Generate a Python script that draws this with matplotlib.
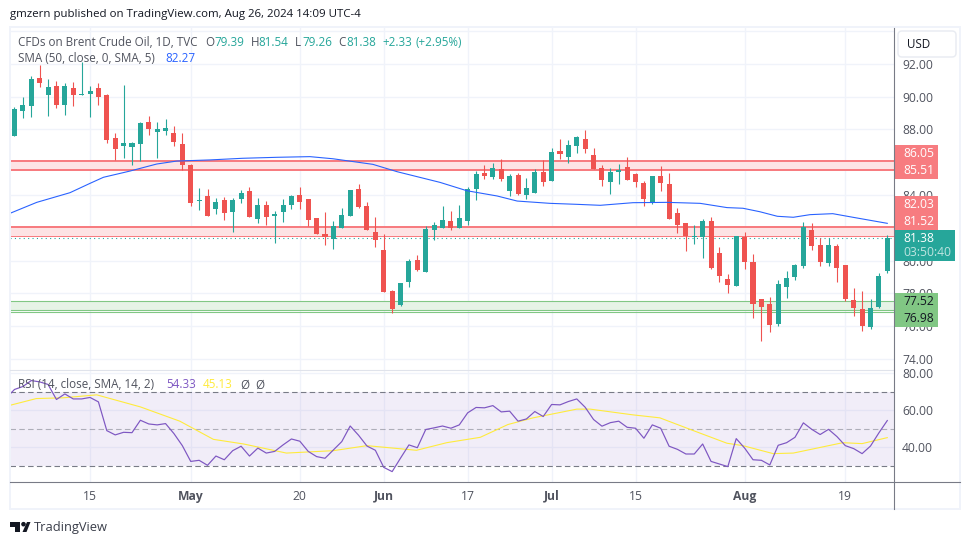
#!/usr/bin/env python3
"""Brent crude daily candles with SMA, RSI and support/resistance zones."""

import matplotlib
matplotlib.use('Agg')
import matplotlib.pyplot as plt
from matplotlib.patches import Rectangle, FancyBboxPatch, Polygon, Circle
import numpy as np

plt.rcParams['font.family'] = ['Open Sans', 'DejaVu Sans']

W, H = 970, 545

# Candle data
opens = [87.60, 89.14, 89.43, 91.14, 90.10, 90.65, 89.49, 90.53, 90.10, 90.16,
         90.53, 90.10, 87.48, 86.99, 86.93, 87.11, 88.45, 87.84, 87.90, 87.78,
         87.11, 85.83, 83.63, 83.94, 83.15, 83.69, 82.96, 83.76, 84.24, 82.54,
         83.39, 82.72, 82.96, 83.39, 84.00, 83.76, 82.60, 81.62, 81.32, 81.99,
         82.72, 84.37, 83.33, 81.74, 80.64, 78.14, 77.29, 78.69, 80.03, 79.30,
         81.86, 81.99, 82.41, 81.99, 82.41, 84.37, 85.34, 85.10, 85.59, 84.24,
         85.22, 84.00, 84.12, 85.40, 84.85, 86.68, 86.32, 86.99, 87.42, 86.44,
         85.65, 84.79, 85.40, 85.71, 85.28, 84.73, 83.51, 85.16, 84.67, 82.90,
         82.29, 81.44, 81.44, 82.41, 80.46, 78.87, 78.45, 81.44, 79.91, 77.65,
         77.35, 76.13, 78.39, 79.00, 79.67, 81.86, 80.95, 79.85, 80.89, 79.73,
         77.59, 77.04, 75.95, 77.17, 79.39]
highs = [89.35, 89.96, 91.28, 91.93, 91.08, 90.96, 90.83, 90.89, 92.11, 90.65,
         90.83, 90.16, 87.78, 90.71, 87.23, 88.45, 88.82, 88.45, 88.64, 88.21,
         87.78, 85.89, 84.43, 84.37, 83.82, 83.88, 83.82, 84.31, 84.49, 83.82,
         83.63, 83.02, 83.76, 84.00, 84.49, 83.76, 82.60, 82.96, 82.41, 83.21,
         84.31, 84.67, 83.57, 82.66, 81.62, 78.20, 78.63, 80.10, 80.34, 82.11,
         82.35, 83.33, 83.02, 83.39, 84.49, 85.46, 85.83, 85.95, 86.20, 85.28,
         85.34, 85.04, 85.59, 86.14, 86.87, 87.42, 87.36, 87.60, 87.97, 86.87,
         85.83, 85.65, 85.89, 86.32, 85.34, 84.85, 85.16, 85.77, 85.34, 83.21,
         82.29, 82.17, 82.54, 82.66, 80.83, 79.18, 81.50, 81.74, 80.40, 77.65,
         77.78, 78.81, 79.36, 79.79, 82.35, 82.29, 81.38, 81.38, 81.01, 79.73,
         78.33, 78.14, 77.65, 79.24, 81.54]
lows = [87.60, 88.70, 88.76, 90.59, 88.82, 89.31, 88.88, 89.43, 90.10, 88.76,
        89.49, 87.17, 86.14, 86.26, 85.83, 86.07, 87.66, 86.26, 87.66, 86.99,
        85.53, 83.33, 83.08, 82.72, 82.84, 82.47, 81.74, 83.51, 82.66, 82.29,
        82.17, 81.07, 82.35, 83.15, 83.15, 82.11, 81.62, 80.95, 80.71, 81.99,
        82.72, 83.21, 81.86, 80.83, 78.08, 76.80, 77.23, 78.39, 79.36, 79.30,
        81.25, 81.99, 81.86, 81.99, 82.17, 83.69, 84.98, 84.98, 84.85, 83.94,
        84.00, 83.76, 84.12, 84.55, 84.85, 86.20, 85.95, 86.56, 86.56, 85.59,
        84.55, 84.06, 84.67, 84.92, 84.49, 83.33, 83.45, 84.24, 82.54, 81.68,
        80.58, 81.01, 80.16, 79.48, 78.69, 78.02, 78.45, 79.48, 76.50, 75.09,
        75.64, 76.01, 77.72, 78.81, 79.55, 80.64, 79.67, 79.67, 78.69, 77.53,
        76.62, 75.70, 75.82, 77.11, 79.26]
closes = [89.27, 89.49, 91.08, 90.85, 90.59, 89.49, 90.65, 90.10, 90.16, 90.35,
          89.98, 87.36, 86.81, 87.17, 87.17, 88.39, 88.03, 88.03, 88.09, 87.23,
          85.83, 83.51, 83.69, 82.72, 83.57, 82.90, 83.69, 84.12, 82.66, 83.39,
          82.66, 82.84, 83.39, 83.94, 83.57, 82.47, 81.62, 81.44, 82.11, 82.78,
          84.31, 83.27, 81.86, 81.25, 78.08, 77.04, 78.63, 79.97, 79.42, 81.93,
          82.17, 82.47, 81.99, 82.60, 84.37, 85.28, 85.16, 85.65, 84.98, 85.16,
          84.06, 84.43, 85.40, 84.79, 86.62, 86.50, 87.05, 87.54, 86.81, 85.59,
          84.92, 85.40, 85.53, 84.92, 84.79, 83.76, 85.16, 84.73, 82.54, 82.17,
          81.50, 81.50, 82.41, 79.55, 79.06, 78.51, 81.50, 79.91, 77.35, 77.17,
          76.07, 78.57, 78.94, 79.73, 82.05, 80.89, 79.91, 80.95, 79.55, 77.65,
          77.11, 76.01, 77.11, 79.06, 81.38]

# SMA 50, read at a set of candle positions
sma_pos = [-0.54, 2.65, 6.61, 9.0, 10.6, 13.76, 16.95, 19.33, 23.3, 27.2, 31.3,
           35.2, 37.95, 42.7, 45.6, 50.7, 53.9, 57.5, 59.9, 63.8, 67.0, 69.8,
           73.7, 77.75, 81.7, 84.9, 86.8, 88.8, 90.9, 92.8, 94.8, 97.5, 99.9, 104]
sma_vals = [82.88, 83.55, 84.14, 84.71, 85.08, 85.46, 85.89, 86.07, 86.14, 86.24,
            86.30, 86.34, 86.21, 85.87, 85.42, 84.77, 84.26, 83.94, 83.63, 83.49,
            83.43, 83.37, 83.53, 83.55, 83.49, 83.23, 83.19, 82.98, 82.70, 82.64,
            82.80, 82.86, 82.64, 82.27]

# RSI, one value per candle, and its moving average at a set of positions
rsi_vals = [71.1, 72.7, 75.9, 75.2, 73.8, 65.7, 68.7, 66.0, 66.0, 66.8,
            64.4, 48.9, 46.6, 48.0, 47.8, 54.5, 52.5, 52.0, 52.7, 47.3,
            40.8, 32.3, 32.9, 30.2, 35.2, 33.2, 38.1, 40.5, 35.2, 39.5,
            36.8, 37.7, 41.2, 44.4, 43.2, 37.7, 34.9, 34.0, 38.5, 43.0,
            51.4, 46.4, 40.6, 38.3, 29.1, 26.8, 34.1, 41.2, 39.7, 49.5,
            50.4, 51.4, 50.2, 52.0, 58.5, 61.4, 61.2, 62.4, 59.0, 59.4,
            54.0, 55.2, 59.2, 56.5, 63.0, 62.8, 64.6, 66.0, 61.5, 54.9,
            51.3, 53.2, 54.0, 50.7, 50.2, 44.8, 52.0, 50.2, 40.5, 38.8,
            36.3, 36.3, 41.7, 32.3, 30.9, 29.5, 44.6, 39.5, 33.2, 32.9,
            30.4, 41.0, 42.4, 45.3, 53.1, 49.6, 46.8, 49.6, 45.7, 40.8,
            39.2, 36.5, 40.6, 47.7, 54.33]
rsi_before = 66.5
rsi_ma_pos = [-0.5, 2.6, 5.8, 9.8, 15, 19.7, 23.7, 27.3, 32.4, 38, 42, 47.9, 51.5,
              55.5, 58.8, 61.8, 67, 68.6, 73.7, 76.9, 80.9, 84.9, 86.8, 90.4,
              92.8, 98.7, 101, 104]
rsi_ma_vals = [62.6, 66.2, 66.6, 68.2, 61.7, 54.0, 44.2, 41.7, 36.8, 38.1, 40.8,
               38.3, 42.4, 45.3, 52.2, 55.8, 60.5, 60.5, 57.4, 55.8, 48.9, 42.1,
               40.8, 36.5, 36.8, 42.4, 41.9, 45.13]

# Zones and axis ticks
red_zones = [(85.51, 86.05), (81.52, 82.03)]
green_zone = (76.98, 77.52)
green_extra = 76.85
last_price = 81.38
price_ticks = [74, 76, 78, 80, 82, 84, 86, 88, 90, 92]
hidden_price_labels = [82, 86]  # sit fully under the price tags
rsi_ticks = [40, 60, 80]
date_pos = [9, 21, 34, 44, 54, 64, 74, 87, 99]
date_labels = ['15', 'May', '20', 'Jun', '17', 'Jul', '15', 'Aug', '19']
month_labels = ['May', 'Jun', 'Jul', 'Aug']

GREEN = '#26A69A'
RED = '#EF5350'
GRID = '#F0F3FA'
AXIS = '#787B86'
LABEL = '#50535E'
ZONE_RED = '#F77C80'
ZONE_GREEN = '#81C784'
BLUE = '#2962FF'
PURPLE = '#7E57C2'
YELLOW = '#FFEB3B'
LEFT, RIGHT, TOP, SPLIT, BOTTOM = 10, 894, 28, 370, 482
FS = 8.7
HEAD_FS = 8.4
PX = 0.72  # one pixel in points


def make_axes(fig, y0, y1):
    """Axes placed by pixel edges, with the shared look of both panes."""
    ax = fig.add_axes([LEFT / W, 1 - y1 / H, (RIGHT - LEFT) / W, (y1 - y0) / H])
    ax.set_xlim(-0.536, 104.8)
    for s in ax.spines.values():
        s.set_visible(False)
    ax.yaxis.tick_right()
    ax.tick_params(axis='both', length=0, labelsize=FS, labelcolor=LABEL)
    ax.tick_params(axis='y', pad=5.8)
    ax.tick_params(axis='x', pad=5.5)
    ax.set_xticks(date_pos)
    ax.grid(True, color=GRID, lw=1.0 * PX * 1.4)
    ax.set_axisbelow(True)
    return ax


def draw_candles(ax):
    idx = np.arange(len(opens))
    o, h, l, c = map(np.array, (opens, highs, lows, closes))
    colors = [GREEN if b >= a else RED for a, b in zip(o, c)]
    ax.vlines(idx, l, h, colors=colors, lw=1.1 * PX, zorder=3)
    body = np.maximum(np.abs(c - o), 0.07)
    ax.bar(idx, body, bottom=np.minimum(o, c), width=0.6, color=colors,
           linewidth=0, zorder=3)


def draw_zones(ax):
    for (low, high), thin in zip(red_zones, [False, True]):
        ax.axhspan(low, high, facecolor='#FDE3E4', edgecolor='none', zorder=1)
        ax.axhline(high, color=ZONE_RED, lw=2 * PX, zorder=2)
        ax.axhline(low, color=ZONE_RED, lw=(1 if thin else 2) * PX, zorder=2)
    ax.axhspan(green_zone[0], green_zone[1], facecolor='#E6F3E6', edgecolor='none', zorder=1)
    for level in (green_zone[0], green_zone[1], green_extra):
        ax.axhline(level, color=ZONE_GREEN, lw=1.1 * PX, zorder=2)
    ax.axhline(last_price, color=GREEN, lw=1.1 * PX, ls=(0, (1, 3)), zorder=2)


def draw_rsi(ax):
    ax.axhspan(30, 70, facecolor=PURPLE, alpha=0.1, edgecolor='none', zorder=1)
    ax.axhline(70, color=AXIS, lw=1.1 * PX, ls=(0, (5, 3)), zorder=2)
    ax.axhline(50, color=AXIS, alpha=0.55, lw=1.1 * PX, ls=(0, (5, 3)), zorder=2)
    ax.axhline(30, color=AXIS, lw=1.1 * PX, ls=(0, (5, 3)), zorder=2)
    ax.plot(rsi_ma_pos, rsi_ma_vals, color=YELLOW, lw=1.1 * PX, zorder=3)
    ax.plot(np.arange(-1, len(rsi_vals)), [rsi_before] + rsi_vals, color=PURPLE,
            lw=1.2 * PX, zorder=4)


def draw_tags(over):
    """Price tags on the right hand scale."""
    over.add_patch(Rectangle((895, 145), 43, 34, color=ZONE_RED, lw=0))
    over.add_patch(Rectangle((895, 196), 43, 34, color=ZONE_RED, lw=0))
    over.add_patch(Rectangle((895, 293), 43, 34, color=ZONE_GREEN, lw=0))
    over.add_patch(Rectangle((895, 230), 60, 31, color=GREEN, lw=0))
    tags = [(153.5, f'{red_zones[0][1]:.2f}', 'white'), (170.5, f'{red_zones[0][0]:.2f}', 'white'),
            (204.5, f'{red_zones[1][1]:.2f}', 'white'), (221.5, f'{red_zones[1][0]:.2f}', 'white'),
            (238, f'{last_price:.2f}', 'white'), (252.5, '03:50:40', '#BFE5E1'),
            (301.5, f'{green_zone[1]:.2f}', '#131722'), (318.5, f'{green_zone[0]:.2f}', '#131722')]
    for y, s, col in tags:
        over.text(903, y, s, color=col, fontsize=FS, va='center', ha='left')


def draw_header(over):
    over.text(10, 15, 'gmzern published on TradingView.com, Aug 26, 2024 14:09 UTC-4',
              color='#131722', fontsize=8.25, va='center')
    over.text(18, 42, 'CFDs on Brent Crude Oil, 1D, TVC', color=LABEL, fontsize=HEAD_FS, va='center')
    parts = [(205, 'O', LABEL), (214, '79.39', GREEN), (251, 'H', LABEL), (258, '81.54', GREEN),
             (295, 'L', LABEL), (302, '79.26', GREEN), (338, 'C', LABEL), (346, '81.38', GREEN),
             (382, '+2.33', GREEN), (416, '(+2.95%)', GREEN)]
    for x, s, col in parts:
        over.text(x, 42, s, color=col, fontsize=HEAD_FS, va='center')
    over.text(18, 59, 'SMA (50, close, 0, SMA, 5)', color=LABEL, fontsize=HEAD_FS, va='center')
    over.text(165, 59, '82.27', color=BLUE, fontsize=HEAD_FS, va='center')
    over.text(18, 385, 'RSI (14, close, SMA, 14, 2)', color=LABEL, fontsize=HEAD_FS, va='center')
    over.text(166, 385, '54.33', color=PURPLE, fontsize=HEAD_FS, va='center')
    over.text(203, 385, '45.13', color=YELLOW, fontsize=HEAD_FS, va='center')
    over.text(240, 385, 'Ø', color=LABEL, fontsize=HEAD_FS, va='center')
    over.text(255, 385, 'Ø', color=LABEL, fontsize=HEAD_FS, va='center')


def draw_frame(over):
    over.add_patch(Rectangle((10, 27), 950, 482, fill=False, ec='#F0F3FA', lw=2 * PX))
    over.plot([LEFT, RIGHT], [SPLIT, SPLIT], color='#E0E3EB', lw=1.1 * PX)
    over.plot([RIGHT, RIGHT], [28, 509], color=AXIS, lw=1.1 * PX)
    over.plot([LEFT, 960], [BOTTOM, BOTTOM], color=AXIS, lw=1.1 * PX)
    # Currency button
    over.add_patch(Rectangle((895, 29), 64, 29, color='white', lw=0))
    over.add_patch(FancyBboxPatch((900, 33), 54, 22, boxstyle='round,pad=2,rounding_size=4',
                                  fc='white', ec='#E9ECF2', lw=1.5 * PX))
    over.text(907, 44, 'USD', color='#131722', fontsize=HEAD_FS, va='center')


def draw_logo(over):
    col = '#131722'
    over.add_patch(Polygon([(10, 522), (20, 522), (20, 532), (15, 532), (15, 527), (10, 527)],
                           closed=True, color=col, lw=0))
    over.add_patch(Circle((23.5, 524.2), 2.3, color=col, lw=0))
    over.add_patch(Polygon([(27, 522), (30.5, 522), (26.5, 532), (22.5, 532)],
                           closed=True, color=col, lw=0))
    over.text(34, 527.5, 'TradingView', color='#3a3e4a', fontsize=9.3, va='center')


def main():
    fig = plt.figure(figsize=(W / 100, H / 100), dpi=100, facecolor='white')

    ax = make_axes(fig, TOP, SPLIT)
    ax.set_ylim(73.32, 94.19)
    ax.set_yticks(price_ticks)
    ax.set_yticks([94], minor=True)
    ax.tick_params(axis='y', which='minor', length=0)
    ax.grid(True, which='minor', axis='y', color=GRID, lw=1.0)
    ax.set_yticklabels(['' if t in hidden_price_labels else f'{t:.2f}' for t in price_ticks])
    ax.tick_params(axis='x', labelbottom=False)
    draw_zones(ax)
    draw_candles(ax)
    ax.plot(sma_pos, sma_vals, color=BLUE, lw=1.1 * PX, zorder=4)

    rsi_ax = make_axes(fig, SPLIT, BOTTOM)
    rsi_ax.set_ylim(21.2, 81.6)
    rsi_ax.set_yticks(rsi_ticks)
    rsi_ax.set_yticklabels([f'{t:.2f}' for t in rsi_ticks])
    rsi_ax.set_xticklabels(date_labels)
    for lab in rsi_ax.get_xticklabels():
        if lab.get_text() in month_labels:
            lab.set_fontweight('bold')
    draw_rsi(rsi_ax)

    over = fig.add_axes([0, 0, 1, 1], facecolor='none')
    over.set_xlim(0, W)
    over.set_ylim(H, 0)
    over.axis('off')
    draw_frame(over)
    draw_tags(over)
    draw_header(over)
    draw_logo(over)

    fig.savefig('out.png', dpi=100)


if __name__ == '__main__':
    main()
